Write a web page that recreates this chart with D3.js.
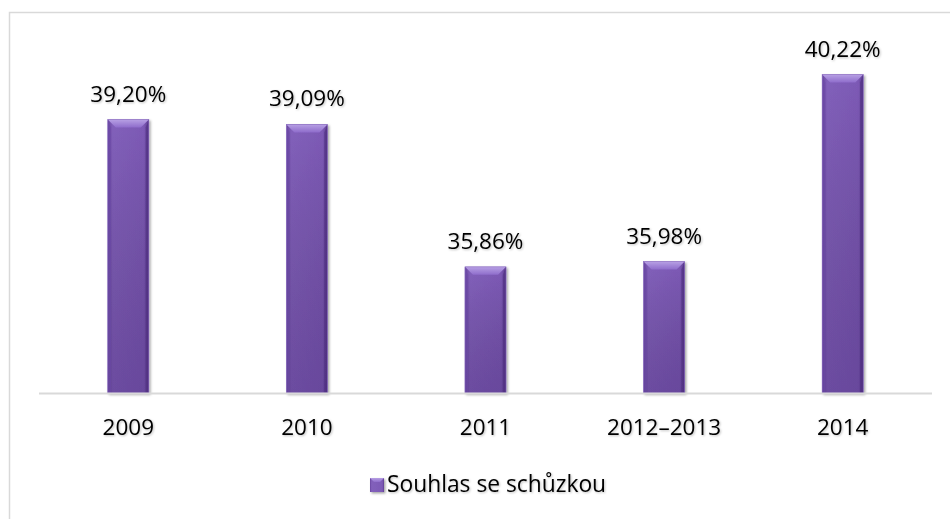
<!DOCTYPE html>
<html><head><meta charset="utf-8">
<script src="https://cdn.jsdelivr.net/npm/d3@7"></script>
<style>body{margin:0;background:#fff}svg{display:block;font-family:"Open Sans","Liberation Sans",Arial,sans-serif}</style>
</head><body><svg id="c" width="950" height="519"></svg>
<script>
const categories = ["2009","2010","2011","2012–2013","2014"];
const values = [39.20, 39.09, 35.86, 35.98, 40.22];
const labels = ["39,20%","39,09%","35,86%","35,98%","40,22%"];
const seriesName = "Souhlas se schůzkou";

const svg = d3.select("#c");
const defs = svg.append("defs");
const g1 = defs.append("linearGradient").attr("id","body").attr("x1",0).attr("x2",1).attr("y1",0).attr("y2",0);
g1.append("stop").attr("offset","0%").attr("stop-color","#6a47a0");
g1.append("stop").attr("offset","12%").attr("stop-color","#8260bb");
g1.append("stop").attr("offset","88%").attr("stop-color","#7d5ab6");
g1.append("stop").attr("offset","100%").attr("stop-color","#5e3d92");
const g2 = defs.append("linearGradient").attr("id","top").attr("x1",0).attr("x2",0).attr("y1",0).attr("y2",1);
g2.append("stop").attr("offset","0%").attr("stop-color","#b7a0e4");
g2.append("stop").attr("offset","100%").attr("stop-color","#8e6ccb");
const g3 = defs.append("linearGradient").attr("id","vbody").attr("x1",0).attr("x2",0).attr("y1",0).attr("y2",1);
g3.append("stop").attr("offset","0%").attr("stop-color","#000").attr("stop-opacity",0);
g3.append("stop").attr("offset","100%").attr("stop-color","#2a1050").attr("stop-opacity",0.25);
const flt = defs.append("filter").attr("id","sh").attr("x","-20%").attr("y","-20%").attr("width","150%").attr("height","150%");
flt.append("feDropShadow").attr("dx",1.5).attr("dy",1.5).attr("stdDeviation",1.2).attr("flood-color","#000").attr("flood-opacity",0.35);
const tf = defs.append("filter").attr("id","tsh").attr("x","-10%").attr("y","-20%").attr("width","130%").attr("height","150%");
tf.append("feDropShadow").attr("dx",1).attr("dy",1).attr("stdDeviation",0.8).attr("flood-color","#000").attr("flood-opacity",0.25);

// chart border
svg.append("rect").attr("x",9.5).attr("y",12.5).attr("width",960).attr("height",540)
  .attr("fill","none").attr("stroke","#d9d9d9").attr("stroke-width",1.5);

const x = d3.scaleBand().domain(categories).range([39,932]).paddingInner(0.77).paddingOuter(0.385);
const y = d3.scaleLinear().domain([33,41]).range([393,40.2]);

const bars = svg.append("g").selectAll("g").data(values).join("g")
  .attr("filter","url(#sh)");
bars.each(function(v,i){
  const gx = x(categories[i]), w = x.bandwidth(), top = y(v), h = y(33)-top;
  const s = d3.select(this);
  s.append("rect").attr("x",gx).attr("y",top).attr("width",w).attr("height",h).attr("fill","url(#body)");
  s.append("rect").attr("x",gx).attr("y",top).attr("width",w).attr("height",h).attr("fill","url(#vbody)");
  const b = 8;
  s.append("path").attr("d",`M${gx},${top}L${gx+w},${top}L${gx+w-b},${top+b}L${gx+b},${top+b}Z`).attr("fill","url(#top)");
  s.append("path").attr("d",`M${gx},${top}L${gx+b*0.4},${top+b}L${gx+b*0.4},${top+h}L${gx},${top+h}Z`).attr("fill","#6a4aa6").attr("opacity",0.6);
  s.append("path").attr("d",`M${gx+w},${top}L${gx+w-b*0.4},${top+b}L${gx+w-b*0.4},${top+h}L${gx+w},${top+h}Z`).attr("fill","#4e2f80").attr("opacity",0.6);
  s.append("rect").attr("x",gx).attr("y",top).attr("width",w).attr("height",h).attr("fill","none").attr("stroke","#8a6cc0").attr("stroke-width",0.6);
});

// axis line
svg.append("line").attr("x1",39).attr("x2",932).attr("y1",393.5).attr("y2",393.5)
  .attr("stroke","#d9d9d9").attr("stroke-width",2);

// value labels
svg.append("g").selectAll("text").data(values).join("text")
  .attr("x",(d,i)=>x(categories[i])+x.bandwidth()/2)
  .attr("y",d=>y(d)-18)
  .attr("text-anchor","middle").attr("font-size",22.5).attr("fill","#000")
  .attr("filter","url(#tsh)")
  .text((d,i)=>labels[i]);

// category labels
const ax = d3.axisBottom(x).tickSize(0).tickPadding(0);
const axg = svg.append("g").attr("transform","translate(0,393)").call(ax);
axg.select(".domain").remove();
axg.selectAll("text").attr("font-size",22.5).attr("fill","#000").attr("dy",null).attr("y",42)
  .attr("font-family","Open Sans, Liberation Sans, Arial, sans-serif").attr("filter","url(#tsh)");

// legend
const lg = svg.append("g").attr("transform","translate(370,478)");
lg.append("rect").attr("width",14).attr("height",14).attr("fill","url(#body)").attr("filter","url(#sh)");
lg.append("path").attr("d","M0,0L14,0L10,4L4,4Z").attr("fill","url(#top)");
lg.append("text").attr("x",17).attr("y",13.7).attr("font-size",22.8).attr("fill","#000")
  .attr("filter","url(#tsh)").text(seriesName);
</script></body></html>
